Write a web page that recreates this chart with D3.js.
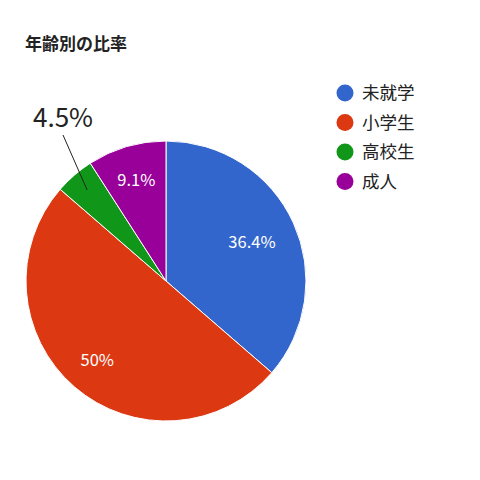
<!DOCTYPE html>
<html>
<head>
<meta charset="utf-8">
<script src="https://cdn.jsdelivr.net/npm/d3@7"></script>
<style>
  body { margin: 0; background: #fff; }
  text { font-family: "Noto Sans CJK JP", "Noto Sans", Roboto, sans-serif; }
</style>
</head>
<body>
<div id="chart"></div>
<script>
var categories = ["未就学", "小学生", "高校生", "成人"];
var counts = [8, 11, 1, 2];
var pctLabels = ["36.4%", "50%", "4.5%", "9.1%"];
var colors = ["#3366cc", "#dc3912", "#109618", "#990099"];

var width = 480, height = 480;
var cx = 166, cy = 281, radius = 140;

var svg = d3.select("#chart")
    .append("svg")
    .attr("width", width)
    .attr("height", height);

svg.append("text")
    .attr("x", 25)
    .attr("y", 50)
    .attr("font-size", 17)
    .attr("font-weight", "bold")
    .attr("fill", "#222")
    .text("年齢別の比率");

var pie = d3.pie().sort(null)(counts);
var arc = d3.arc().innerRadius(0).outerRadius(radius);

var g = svg.append("g")
    .attr("transform", "translate(" + cx + "," + cy + ")");

g.selectAll("path")
    .data(pie)
    .enter()
    .append("path")
    .attr("d", arc)
    .attr("fill", function(d, i) { return colors[i]; })
    .attr("stroke", "#fff")
    .attr("stroke-width", 1);

// labels inside the big slices
function labelPos(d) {
    var a = (d.startAngle + d.endAngle) / 2;
    var r = radius * (d.index === 0 ? 0.675 : 0.75);
    return [Math.sin(a) * r, -Math.cos(a) * r];
}
g.selectAll("text.inside")
    .data(pie.filter(function(d) { return d.endAngle - d.startAngle > 0.4; }))
    .enter()
    .append("text")
    .attr("class", "inside")
    .attr("transform", function(d) { return "translate(" + labelPos(d) + ")"; })
    .attr("text-anchor", "middle")
    .attr("dy", "0.35em")
    .attr("font-size", 16.5)
    .attr("fill", "#fff")
    .text(function(d) { return pctLabels[d.index]; });

// small slice label outside with leader line
var small = pie[2];
var mid = (small.startAngle + small.endAngle) / 2;
var p0 = [Math.sin(mid) * radius * 0.86, -Math.cos(mid) * radius * 0.86];
var p1 = [-103, -146];
g.append("line")
    .attr("x1", p0[0]).attr("y1", p0[1])
    .attr("x2", p1[0]).attr("y2", p1[1])
    .attr("stroke", "#222")
    .attr("stroke-width", 1);
g.append("text")
    .attr("x", p1[0])
    .attr("y", p1[1] - 8)
    .attr("text-anchor", "middle")
    .attr("font-size", 26)
    .attr("fill", "#222")
    .text(pctLabels[2]);

// legend
var legend = svg.append("g")
    .attr("transform", "translate(345,93)");
var item = legend.selectAll("g")
    .data(categories)
    .enter()
    .append("g")
    .attr("transform", function(d, i) { return "translate(0," + i * 29.5 + ")"; });
item.append("circle")
    .attr("r", 8.5)
    .attr("fill", function(d, i) { return colors[i]; });
item.append("text")
    .attr("x", 17)
    .attr("dy", "0.35em")
    .attr("font-size", 17.5)
    .attr("fill", "#222")
    .text(function(d) { return d; });
</script>
</body>
</html>
